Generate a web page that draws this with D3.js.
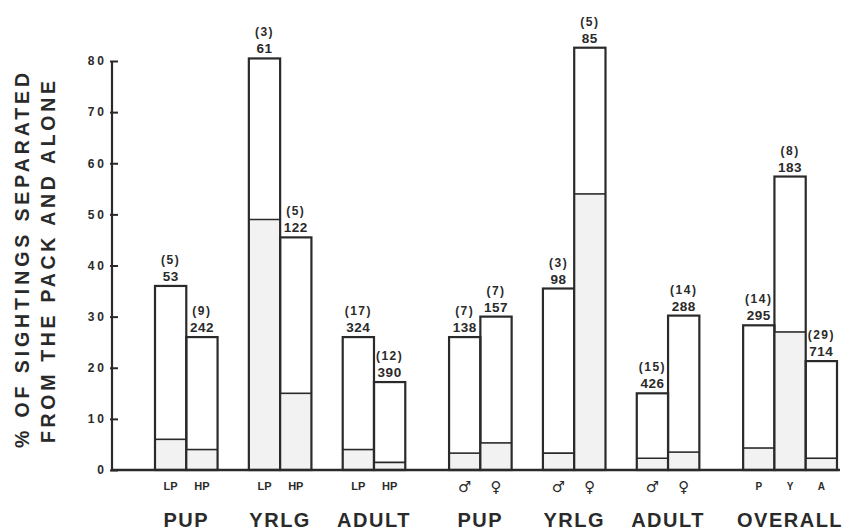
<!DOCTYPE html>
<html><head><meta charset="utf-8">
<script src="https://cdn.jsdelivr.net/npm/d3@7"></script>
<style>
body{margin:0;background:#fff;}
text{font-family:"Liberation Sans",Arial,Helvetica,sans-serif;fill:#2a2a2a;}
</style></head>
<body><svg id="c" width="848" height="530"></svg>
<script>
// ---- data ----
const sectionLabels = ["PUP","YRLG","ADULT","PUP","YRLG","ADULT","OVERALL"];
const barLabels = ["LP","HP","LP","HP","LP","HP","\u2642","\u2640","\u2642","\u2640","\u2642","\u2640","P","Y","A"];
const barGroup = [0,0,1,1,2,2,3,3,4,4,5,5,6,6,6];
const totalPct = [36, 26, 80.5, 45.5, 26, 17.2, 26, 30, 35.5, 82.6, 15, 30.2, 28.3, 57.4, 21.3];
const alonePct = [6, 4, 49, 15, 4, 1.5, 3.3, 5.3, 3.3, 54, 2.3, 3.5, 4.3, 27, 2.3];
const nAnimals = ["(5)","(9)","(3)","(5)","(17)","(12)","(7)","(7)","(3)","(5)","(15)","(14)","(14)","(8)","(29)"];
const nSightings = [53,242,61,122,324,390,138,157,98,85,426,288,295,183,714];
const yTicks = [0,10,20,30,40,50,60,70,80];
const yTitle = ["% OF SIGHTINGS SEPARATED","FROM THE PACK AND ALONE"];

// ---- layout ----
const svg = d3.select("#c");
const ink = "#2a2a2a";
const y = d3.scaleLinear().domain([0,80]).range([470,61]);
const x = d3.scaleLinear().domain([0,21.8]).range([155,837]);
const bw = x(1)-x(0);

// slot index of each bar
const slot = [];
barGroup.forEach((g,i)=>{
  const j = barGroup.slice(0,i).filter(v=>v===g).length;
  const s = g<3?0:(g<6?1:2);
  slot.push(g*3 + s*0.4 + j);
});

// y axis
const yAxis = d3.axisLeft(y).tickValues(yTicks).tickSize(-6).tickPadding(5);
const ga = svg.append("g").attr("transform","translate(112,0)").call(yAxis);
ga.select(".domain").attr("stroke",ink).attr("stroke-width",2.2).attr("d","M0,"+y(80)+"V"+y(0));
ga.selectAll(".tick line").attr("stroke",ink).attr("stroke-width",2).attr("x1",-2);
ga.selectAll(".tick text").attr("fill",ink).style("font-size","12px").style("font-weight","bold").style("letter-spacing","3px");

// y title
yTitle.forEach((t,k)=>{
  svg.append("text")
    .attr("transform",`translate(${[29,55][k]},${[260.5,262][k]}) rotate(-90)`)
    .attr("text-anchor","middle")
    .attr("textLength",[375,362][k]).attr("lengthAdjust","spacing")
    .style("font-size","19.5px").style("font-weight","bold")
    .text(t);
});

// bars
const bars = svg.append("g");
totalPct.forEach((v,i)=>{
  const x0 = x(slot[i]);
  bars.append("rect").attr("x",x0).attr("y",y(alonePct[i])).attr("width",bw).attr("height",y(0)-y(alonePct[i]))
    .attr("fill","#f2f2f2").attr("stroke","none");
  bars.append("line").attr("x1",x0).attr("x2",x0+bw).attr("y1",y(alonePct[i])).attr("y2",y(alonePct[i]))
    .attr("stroke",ink).attr("stroke-width",1.6);
  bars.append("rect").attr("x",x0).attr("y",y(v)).attr("width",bw).attr("height",y(0)-y(v))
    .attr("fill","none").attr("stroke",ink).attr("stroke-width",2.2);
  bars.append("text").attr("x",x0+bw/2).attr("y",y(v)-5).attr("text-anchor","middle")
    .style("font-size","13.5px").style("font-weight","bold").style("letter-spacing","0.5px").text(nSightings[i]);
  bars.append("text").attr("x",x0+bw/2).attr("y",y(v)-22).attr("text-anchor","middle")
    .style("font-size","12px").style("font-weight","bold").style("letter-spacing","1.5px").text(nAnimals[i]);
  const isSym = /[\u2640\u2642]/.test(barLabels[i]);
  bars.append("text").attr("x",x0+bw/2).attr("y",isSym?492:490).attr("text-anchor","middle")
    .style("font-family",isSym?"DejaVu Sans":null)
    .style("font-size",isSym?"15px":(barGroup[i]===6?"10px":"11px")).style("font-weight","bold")
    .text(barLabels[i]);
});

// baseline
svg.append("line").attr("x1",111).attr("x2",840).attr("y1",y(0)).attr("y2",y(0))
  .attr("stroke",ink).attr("stroke-width",2.4);

// section labels
sectionLabels.forEach((t,g)=>{
  const idx = barGroup.map((v,i)=>v===g?i:-1).filter(i=>i>=0);
  const cx = (x(slot[idx[0]]) + x(slot[idx[idx.length-1]])+bw)/2;
  svg.append("text").attr("x",cx).attr("y",527).attr("text-anchor","middle")
    .style("font-size","20px").style("font-weight","bold").style("letter-spacing","1.5px").text(t);
});
</script></body></html>
